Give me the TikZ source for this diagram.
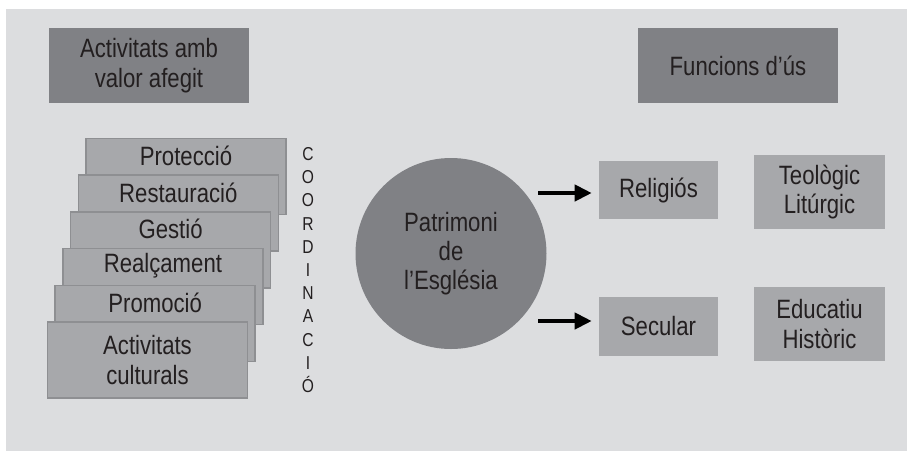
\documentclass[tikz,border=0pt]{standalone}
\usepackage{fontspec}
\setmainfont{Liberation Sans}[FakeStretch=0.835]
\usetikzlibrary{arrows.meta}
\definecolor{bgcol}{HTML}{DCDDDF}
\definecolor{boxdark}{HTML}{808185}
\definecolor{boxlight}{HTML}{A7A8AB}
\definecolor{edgecol}{HTML}{8E8F92}
\definecolor{inkcol}{HTML}{231F20}

\begin{document}
\begin{tikzpicture}[x=0.75pt, y=-0.75pt,
    every node/.style={text=inkcol, font=\fontsize{19.9pt}{22pt}\selectfont, inner sep=0pt, align=center},
    headbox/.style={fill=boxdark, minimum width=150pt, minimum height=56.25pt},
    stackbox/.style={draw=edgecol, line width=1.1pt, fill=boxlight, minimum width=150pt, minimum height=57pt},
    funcbox/.style={fill=boxlight},
    arrow/.style={line width=3pt, -{Triangle[length=12.75pt,width=12pt]}, shorten >=5.25pt}]
    \useasboundingbox (0,0) rectangle (907,451);
    \fill[bgcol] (6,9) rectangle (907,451);

    % headings
    \node[headbox] (valor) at (149,65.5) {Activitats amb\\valor afegit};
    \node[headbox] (funcions) at (738,65.5) {Funcions d’ús};

    % stacked activities
    \foreach \nm/\txt [count=\i from 0] in {prot/Protecció,rest/Restauració,gest/Gestió,realc/Realçament,prom/Promoció} {
        \node[stackbox] (\nm) at ({186-7.7*\i},{176.5+36.7*\i}) {};
        \node (\nm-txt) at ([yshift=-13.5pt]\nm.north) {\txt};
    }
    \node[stackbox] (cult) at (147.5,360) {Activitats\\culturals};
    \node[font=\fontsize{14pt}{17.4pt}\selectfont] (coord) at (308,270) {C\\O\\O\\R\\D\\I\\N\\A\\C\\I\\Ó};

    % centre
    \node[circle, fill=boxdark, minimum size=143.25pt] (patr) at (451,253.5) {Patrimoni\\de\\l’Església};

    % uses
    \node[funcbox, minimum width=89.25pt, minimum height=43.5pt] (reli) at (658.5,190) {Religiós};
    \node[funcbox, minimum width=98.25pt, minimum height=55.5pt] (teol) at (819.5,192) {Teològic\\Litúrgic};
    \node[funcbox, minimum width=89.25pt, minimum height=44.25pt] (secu) at (658.5,326.5) {Secular};
    \node[funcbox, minimum width=98.25pt, minimum height=55.5pt] (educ) at (819.5,324) {Educatiu\\Històric};

    \coordinate (a1) at (538,193);
    \coordinate (a2) at (538,321);
    \draw[arrow] (a1) -- (a1 -| reli.west);
    \draw[arrow] (a2) -- (a2 -| secu.west);
\end{tikzpicture}
\end{document}
